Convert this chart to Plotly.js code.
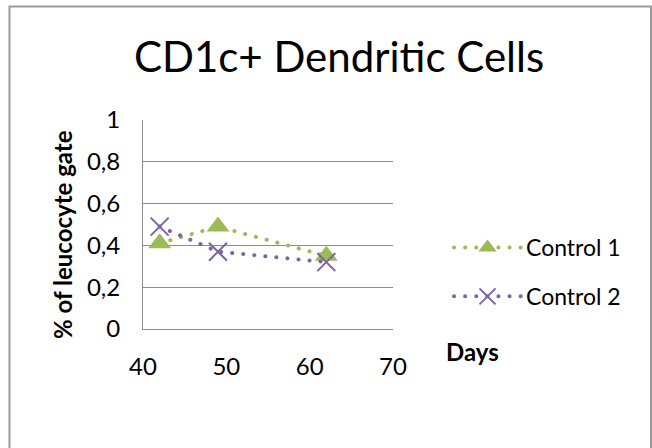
<!DOCTYPE html>
<html>
<head>
<meta charset="utf-8">
<script src="https://cdn.plot.ly/plotly-3.0.1.min.js"></script>
<style>
  html, body { margin: 0; padding: 0; background: #fff; }
  #chart { width: 652px; height: 448px; }
  /* round caps turn the short dashes into dots */
  .scatterlayer .js-line, .legendlines path { stroke-linecap: round; }
</style>
</head>
<body>
<div id="chart"></div>
<script>
// Sampling days and the share of the leucocyte gate for each control
const days = [42, 49, 62];
const control1 = [0.41, 0.49, 0.35];
const control2 = [0.49, 0.37, 0.32];
const seriesNames = ['Control 1', 'Control 2'];
const yTicks = [0, 0.2, 0.4, 0.6, 0.8, 1];
const xTicks = [40, 50, 60, 70];

const FONT = 'Lato, "Open Sans", sans-serif';

// plot area in pixels, used to place the frame and free-standing labels in paper units
const L = 143, R = 393, T = 120, B = 329;
const px = v => (v - L) / (R - L);
const py = v => (B - v) / (B - T);

const traces = [
  {
    x: days, y: control1, name: seriesNames[0], legendgroup: 'c1',
    type: 'scatter', mode: 'lines+markers',
    line: { color: '#9BBB59', width: 4, dash: '0.1px,11px' },
    marker: { symbol: 'triangle-up', size: 20, color: '#9BBB59' }
  },
  {
    x: days, y: control2, name: seriesNames[1], legendgroup: 'c2',
    type: 'scatter', mode: 'lines+markers',
    line: { color: '#8064A2', width: 4, dash: '0.1px,11px' },
    marker: { symbol: 'x-thin-open', size: 18, color: '#8064A2', line: { color: '#8064A2', width: 2 } }
  }
];

const layout = {
  width: 652, height: 448,
  margin: { l: L, r: 652 - R, t: T, b: 448 - B, pad: 0 },
  paper_bgcolor: '#fff', plot_bgcolor: '#fff',
  separators: ', ',
  font: { family: FONT, size: 24, color: '#000' },
  title: {
    text: 'CD1c+ Dendritic Cells',
    font: { family: FONT, size: 42, color: '#000' },
    x: 0.52, xanchor: 'center', y: 0.872, yanchor: 'middle'
  },
  showlegend: true,
  legend: {
    x: px(449), y: py(226), xanchor: 'left', yanchor: 'top',
    font: { family: FONT, size: 23, color: '#000' },
    traceorder: 'grouped', tracegroupgap: 16, itemwidth: 67,
    bgcolor: 'rgba(0,0,0,0)'
  },
  xaxis: {
    range: [40, 70], tickvals: xTicks, ticktext: xTicks.map(String),
    showgrid: false, zeroline: false,
    showline: true, linecolor: '#8c8c8c', linewidth: 1,
    ticks: '', ticklabelstandoff: 16,
    tickfont: { family: FONT, size: 24, color: '#000' }
  },
  yaxis: {
    range: [0, 1], tickvals: yTicks,
    showgrid: true, gridcolor: '#8c8c8c', gridwidth: 1,
    zeroline: false, showline: true, linecolor: '#8c8c8c', linewidth: 1,
    ticks: '', ticklabelstandoff: 17,
    tickfont: { family: FONT, size: 24, color: '#000' }
  },
  annotations: [
    {
      text: '<b>% of leucocyte gate</b>', xref: 'paper', yref: 'paper',
      x: px(62), y: py(235), xanchor: 'center', yanchor: 'middle', textangle: -90,
      showarrow: false, font: { family: FONT, size: 24, color: '#000' }
    },
    {
      text: '<b>Days</b>', xref: 'paper', yref: 'paper',
      x: px(444), y: py(351), xanchor: 'left', yanchor: 'middle',
      showarrow: false, font: { family: FONT, size: 24, color: '#000' }
    }
  ],
  shapes: [
    {
      type: 'rect', xref: 'paper', yref: 'paper',
      x0: px(9.5), x1: px(651), y0: py(6.5), y1: py(470),
      line: { color: '#9a9a9a', width: 2 }, fillcolor: 'rgba(0,0,0,0)', layer: 'below'
    }
  ]
};

Plotly.newPlot('chart', traces, layout, { displayModeBar: false, staticPlot: true });
</script>
</body>
</html>
